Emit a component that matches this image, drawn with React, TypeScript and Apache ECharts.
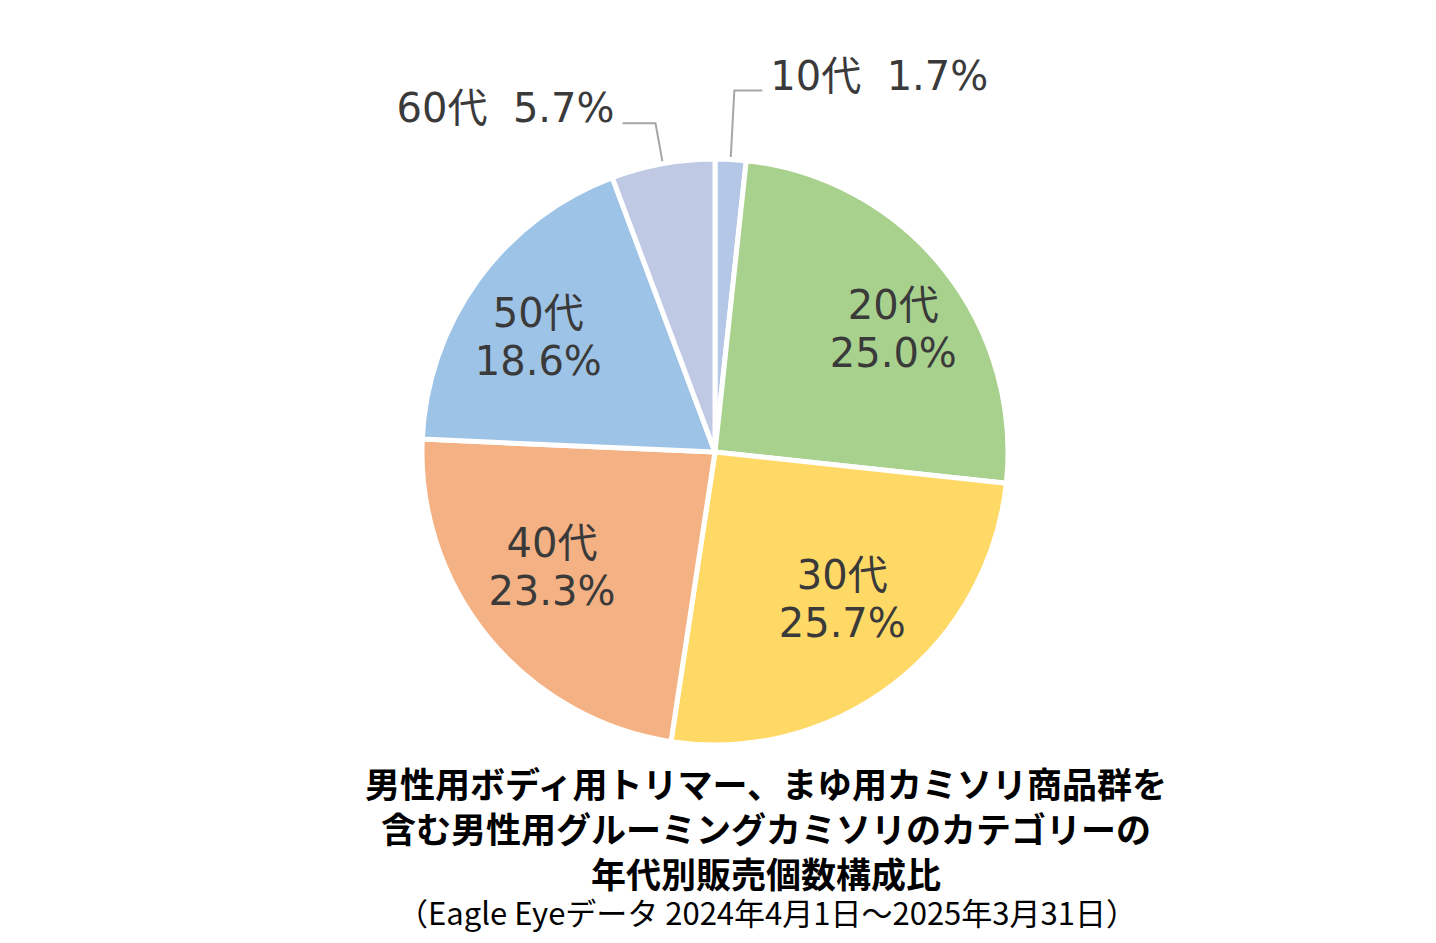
import React, { useEffect, useRef } from "react";
import * as echarts from "echarts";

const categories = ["10代", "20代", "30代", "40代", "50代", "60代"];
const shares = [1.7, 25.0, 25.7, 23.3, 18.6, 5.7];
const colors = ["#b4c7e7", "#a9d18e", "#ffd966", "#f4b183", "#9dc3e6", "#bfc9e4"];
const outsideLabels = ["10代", "60代"];
const titleLines = [
  "男性用ボディ用トリマー、まゆ用カミソリ商品群を",
  "含む男性用グルーミングカミソリのカテゴリーの",
  "年代別販売個数構成比",
];
const sourceLine = "（Eagle Eyeデータ 2024年4月1日～2025年3月31日）";

const LABEL_FONT = "'DejaVu Sans', 'Noto Sans CJK JP', sans-serif";
const TITLE_FONT = "'Noto Sans CJK JP', 'Noto Sans', sans-serif";

export default function App() {
  const ref = useRef<HTMLDivElement>(null);
  useEffect(() => {
    if (!ref.current) return;
    const chart = echarts.init(ref.current, null, { renderer: "svg" });
    const center = [715, 452];
    const R = 293;
    // small nudges of inner labels (dx, dy) to match the reference placement
    const nudges: Record<string, [number, number]> = {
      "20代": [16, 8],
      "30代": [0, -18],
      "40代": [-2, -17],
      "50代": [-8, 8],
    };

    const mainData = categories.map((c, i) => {
      const outside = outsideLabels.includes(c);
      const item: any = {
        name: c,
        value: shares[i],
        itemStyle: { color: colors[i] },
        label: { show: outside },
        labelLine: { show: outside },
      };
      if (c === "10代") item.labelLine = { show: true, length: 69, length2: 28 };
      if (c === "60代") item.labelLine = { show: true, length: 41, length2: 33 };
      return item;
    });

    const labelData = categories.map((c, i) => ({
      name: c,
      value: shares[i],
      label: { show: !outsideLabels.includes(c) },
    }));

    const option: any = {
      animation: false,
      backgroundColor: "#ffffff",
      series: [
        {
          type: "pie",
          center,
          radius: [0, R],
          startAngle: 90,
          clockwise: true,
          silent: true,
          avoidLabelOverlap: false,
          itemStyle: { borderColor: "#ffffff", borderWidth: 5 },
          label: {
            position: "outside",
            formatter: (p: any) => `{a|${p.name}  ${p.value.toFixed(1)}%}\n{s|}`,
            rich: {
              a: {
                fontFamily: LABEL_FONT,
                fontSize: 40,
                color: "#3a3a3a",
                lineHeight: 44,
              },
              s: { fontSize: 10, lineHeight: 30 },
            },
            distanceToLabelLine: 8,
          },
          labelLine: {
            lineStyle: { color: "#a6a6a6", width: 2 },
          },
          emphasis: { disabled: true },
          data: mainData,
        },
        {
          type: "pie",
          center,
          radius: [118, R],
          startAngle: 90,
          clockwise: true,
          silent: true,
          itemStyle: { color: "rgba(0,0,0,0)", borderWidth: 0 },
          label: {
            position: "inner",
            formatter: (p: any) => `${p.name}\n${p.value.toFixed(1)}%`,
            fontFamily: LABEL_FONT,
            fontSize: 40,
            lineHeight: 48,
            color: "#3a3a3a",
            align: "center",
          },
          labelLayout: (params: any) => {
            if (params.seriesIndex !== 1) return {};
            const n = nudges[categories[params.dataIndex]];
            return n ? { dx: n[0], dy: n[1] } : {};
          },
          labelLine: { show: false },
          emphasis: { disabled: true },
          data: labelData,
        },
      ],
      graphic: [
        {
          type: "text",
          x: 766,
          y: 827,
          style: {
            text: titleLines.join("\n"),
            fontFamily: TITLE_FONT,
            fontSize: 35,
            lineHeight: 45,
            fontWeight: "bold",
            fill: "#000000",
            textAlign: "center",
            textVerticalAlign: "middle",
          },
        },
        {
          type: "text",
          x: 767,
          y: 911,
          style: {
            text: sourceLine,
            fontFamily: TITLE_FONT,
            fontSize: 31,
            fill: "#000000",
            textAlign: "center",
            textVerticalAlign: "middle",
          },
        },
      ],
    };
    chart.setOption(option);
    return () => chart.dispose();
  }, []);
  return (
    <div
      ref={ref}
      style={{ position: "absolute", left: 0, top: 0, width: 1436, height: 943 }}
    />
  );
}
